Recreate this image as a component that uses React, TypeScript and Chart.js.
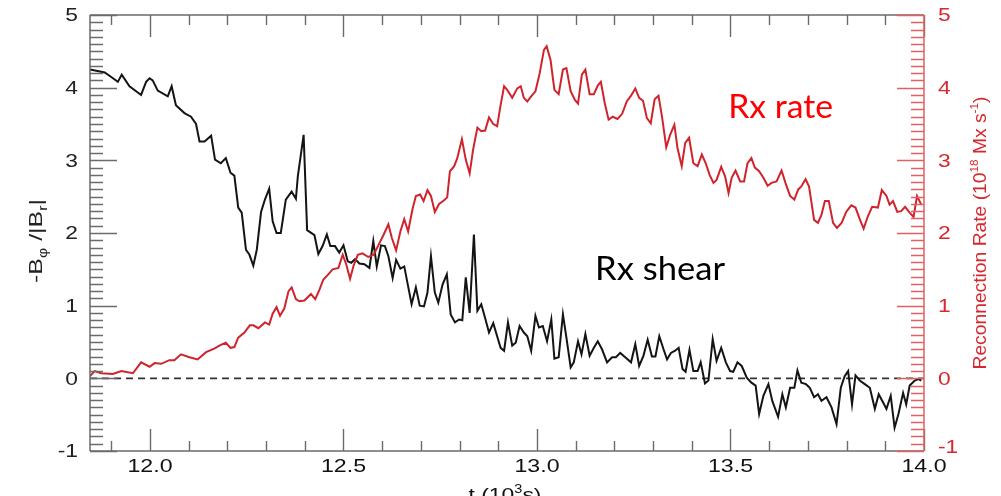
import React, { useEffect, useRef } from "react";
import { Chart, registerables } from "chart.js";

Chart.register(...registerables);

// ---- axis ranges and ticks ----
const X_MIN = 11.845;
const X_MAX = 14.0;
const Y_MIN = -1;
const Y_MAX = 5;
const X_TICKS = [12.0, 12.5, 13.0, 13.5, 14.0];
const X_TICK_LABELS = ["12.0", "12.5", "13.0", "13.5", "14.0"];
const Y_TICKS = [-1, 0, 1, 2, 3, 4, 5];
const Y_TICK_LABELS = ["-1", "0", "1", "2", "3", "4", "5"];
const ZERO_LEVEL = 0;

// ---- Rx shear (-Bphi/|Br|), left axis ----
const SHEAR_T = [
  11.845, 11.883, 11.899, 11.917, 11.927, 11.947, 11.977, 11.99, 11.999, 12.007,
  12.02, 12.046, 12.056, 12.067, 12.089, 12.106, 12.119, 12.128, 12.141, 12.158,
  12.168, 12.183, 12.196, 12.208, 12.218, 12.228, 12.237, 12.248, 12.257, 12.267,
  12.276, 12.287, 12.297, 12.308, 12.317, 12.327, 12.338, 12.351, 12.366, 12.377,
  12.382, 12.397, 12.406, 12.425, 12.435, 12.446, 12.457, 12.466, 12.478, 12.489,
  12.5, 12.511, 12.52, 12.53, 12.541, 12.554, 12.567, 12.577, 12.586, 12.597,
  12.607, 12.616, 12.627, 12.636, 12.647, 12.657, 12.676, 12.687, 12.697, 12.708,
  12.717, 12.726, 12.736, 12.745, 12.756, 12.767, 12.777, 12.788, 12.799, 12.807,
  12.816, 12.826, 12.837, 12.846, 12.856, 12.867, 12.876, 12.887, 12.897, 12.906,
  12.915, 12.925, 12.936, 12.945, 12.955, 12.966, 12.975, 12.985, 12.996, 13.005,
  13.015, 13.026, 13.037, 13.045, 13.056, 13.067, 13.076, 13.087, 13.095, 13.106,
  13.115, 13.125, 13.136, 13.147, 13.157, 13.168, 13.181, 13.194, 13.204, 13.215,
  13.228, 13.243, 13.254, 13.264, 13.275, 13.286, 13.297, 13.306, 13.316, 13.327,
  13.336, 13.346, 13.357, 13.366, 13.376, 13.384, 13.394, 13.404, 13.415, 13.423,
  13.434, 13.443, 13.454, 13.464, 13.476, 13.488, 13.499, 13.507, 13.518, 13.529,
  13.542, 13.554, 13.565, 13.574, 13.585, 13.598, 13.608, 13.623, 13.634, 13.643,
  13.654, 13.665, 13.673, 13.683, 13.695, 13.705, 13.716, 13.726, 13.735, 13.748,
  13.761, 13.774, 13.785, 13.795, 13.804, 13.814, 13.823, 13.834, 13.847, 13.86,
  13.873, 13.883, 13.894, 13.903, 13.914, 13.924, 13.934, 13.946, 13.954, 13.963,
  13.976, 13.986, 13.993,
];
const SHEAR_V = [
  4.25, 4.21, 4.15, 4.08, 4.18, 4.02, 3.9, 4.08, 4.13, 4.1,
  3.96, 3.88, 4.02, 3.76, 3.65, 3.6, 3.5, 3.26, 3.26, 3.34,
  3.01, 2.96, 3.03, 2.83, 2.79, 2.35, 2.28, 1.77, 1.7, 1.55,
  1.77, 2.29, 2.46, 2.61, 2.16, 2.0, 2.0, 2.46, 2.57, 2.47,
  2.78, 3.35, 2.04, 1.97, 1.71, 1.82, 1.98, 1.82, 1.82, 1.73,
  1.83, 1.61, 1.59, 1.64, 1.58, 1.57, 1.52, 1.89, 1.54, 1.83,
  1.82, 1.68, 1.38, 1.63, 1.51, 1.54, 1.02, 1.25, 1.0, 0.99,
  1.18, 1.68, 1.18, 1.04, 1.29, 1.43, 0.88, 0.77, 0.81, 0.8,
  1.39, 0.9, 1.98, 0.93, 1.02, 0.81, 0.63, 0.76, 0.58, 0.42,
  0.38, 0.77, 0.45, 0.49, 0.72, 0.63, 0.58, 0.38, 0.86, 0.7,
  0.72, 0.51, 0.81, 0.27, 0.29, 0.88, 0.56, 0.15, 0.22, 0.51,
  0.33, 0.61, 0.31, 0.42, 0.51, 0.4, 0.22, 0.29, 0.29, 0.35,
  0.29, 0.22, 0.47, 0.17, 0.31, 0.53, 0.3, 0.3, 0.58, 0.4,
  0.26, 0.35, 0.38, 0.42, 0.13, 0.09, 0.39, 0.1, 0.1, 0.22,
  -0.07, -0.03, 0.54, 0.24, 0.42, 0.22, 0.1, 0.09, 0.22, 0.17,
  0.01, -0.06, -0.1, -0.49, -0.24, -0.08, -0.31, -0.53, -0.22, -0.4,
  -0.13, -0.13, 0.11, -0.06, -0.08, -0.13, -0.26, -0.22, -0.31, -0.26,
  -0.4, -0.63, -0.13, 0.03, 0.1, -0.36, 0.04, -0.03, -0.08, -0.13,
  -0.42, -0.22, -0.33, -0.42, -0.24, -0.68, -0.49, -0.2, -0.36, -0.1,
  -0.03, -0.01, -0.03,
];

// ---- Rx rate (10^18 Mx s^-1), right axis ----
const RATE_T = [
  11.845, 11.857, 11.874, 11.904, 11.926, 11.956, 11.977, 11.999, 12.012, 12.029,
  12.05, 12.063, 12.08, 12.102, 12.123, 12.145, 12.166, 12.183, 12.196, 12.208,
  12.218, 12.228, 12.244, 12.258, 12.267, 12.28, 12.297, 12.308, 12.317, 12.327,
  12.336, 12.347, 12.358, 12.366, 12.377, 12.386, 12.399, 12.416, 12.427, 12.438,
  12.448, 12.459, 12.472, 12.487, 12.498, 12.507, 12.517, 12.526, 12.537, 12.549,
  12.564, 12.578, 12.59, 12.604, 12.616, 12.625, 12.636, 12.647, 12.657, 12.667,
  12.678, 12.687, 12.698, 12.707, 12.717, 12.726, 12.736, 12.747, 12.76, 12.768,
  12.775, 12.786, 12.794, 12.806, 12.816, 12.826, 12.835, 12.846, 12.856, 12.866,
  12.876, 12.887, 12.897, 12.906, 12.915, 12.923, 12.936, 12.949, 12.958, 12.966,
  12.975, 12.985, 12.996, 13.007, 13.018, 13.025, 13.035, 13.045, 13.056, 13.067,
  13.076, 13.087, 13.098, 13.106, 13.116, 13.125, 13.136, 13.147, 13.157, 13.165,
  13.175, 13.185, 13.196, 13.208, 13.22, 13.232, 13.243, 13.254, 13.264, 13.274,
  13.284, 13.294, 13.304, 13.314, 13.323, 13.334, 13.344, 13.355, 13.363, 13.374,
  13.383, 13.393, 13.404, 13.415, 13.426, 13.436, 13.446, 13.456, 13.464, 13.476,
  13.486, 13.495, 13.503, 13.513, 13.525, 13.535, 13.544, 13.554, 13.563, 13.574,
  13.585, 13.596, 13.606, 13.619, 13.632, 13.642, 13.654, 13.665, 13.675, 13.683,
  13.694, 13.703, 13.716, 13.726, 13.735, 13.744, 13.754, 13.765, 13.775, 13.787,
  13.799, 13.812, 13.823, 13.834, 13.844, 13.855, 13.866, 13.881, 13.891, 13.903,
  13.911, 13.92, 13.931, 13.941, 13.951, 13.963, 13.973, 13.982, 13.993,
];
const RATE_V = [
  0.03, 0.1, 0.07, 0.06, 0.1, 0.07, 0.22, 0.16, 0.21, 0.2,
  0.25, 0.25, 0.33, 0.29, 0.26, 0.36, 0.41, 0.46, 0.49, 0.42,
  0.43, 0.56, 0.63, 0.73, 0.73, 0.69, 0.77, 0.74, 0.89, 0.98,
  0.86, 0.96, 1.2, 1.25, 1.09, 1.06, 1.07, 1.16, 1.09, 1.22,
  1.36, 1.42, 1.5, 1.52, 1.7, 1.57, 1.37, 1.55, 1.7, 1.72,
  1.67, 1.7, 1.83, 1.98, 2.12, 1.93, 1.76, 2.02, 2.19, 2.02,
  2.32, 2.51, 2.53, 2.44, 2.59, 2.51, 2.29, 2.4, 2.45, 2.49,
  2.85, 2.92, 3.03, 3.29, 3.01, 2.82, 3.15, 3.45, 3.4, 3.41,
  3.59, 3.5, 3.47, 3.76, 4.02, 3.97, 3.86, 3.99, 4.02, 3.86,
  3.81, 3.88, 3.95, 4.2, 4.52, 4.57, 4.38, 3.97, 3.91, 4.25,
  4.27, 3.95, 3.83, 3.78, 4.18, 4.25, 3.91, 3.91, 4.03, 4.08,
  3.79, 3.56, 3.6, 3.57, 3.64, 3.81, 3.89, 3.99, 3.86, 3.82,
  3.58, 3.51, 3.84, 3.89, 3.6, 3.18, 3.35, 3.49, 3.17, 2.92,
  3.24, 3.31, 2.96, 2.92, 3.08, 2.96, 2.8, 2.69, 2.73, 2.91,
  2.78, 2.55, 2.76, 2.86, 2.71, 2.71, 2.96, 3.03, 2.9, 2.85,
  2.76, 2.65, 2.69, 2.71, 2.86, 2.69, 2.51, 2.46, 2.6, 2.64,
  2.74, 2.64, 2.18, 2.14, 2.25, 2.44, 2.44, 2.14, 2.07, 2.14,
  2.29, 2.38, 2.35, 2.19, 2.06, 2.23, 2.36, 2.35, 2.59, 2.51,
  2.39, 2.44, 2.29, 2.3, 2.36, 2.28, 2.22, 2.51, 2.39,
];

// ---- annotations (data coordinates) ----
const ANNOTATIONS = [
  { text: "Rx rate", t: 13.494, v: 3.583, color: "#ff0000", width: 105 },
  { text: "Rx shear", t: 13.15, v: 1.353, color: "#000000", width: 130 },
];

const AXIS_GRAY = "#6b6b6b";
const AXIS_RED = "rgb(224,96,100)";
const LABEL_RED = "rgb(214,40,46)";
const TICK_FONT = '19px "Liberation Sans", Arial, sans-serif';

type Piece = { s: string; kind: "n" | "sub" | "sup" };

function drawRich(ctx: CanvasRenderingContext2D, pieces: Piece[], size: number, targetW: number) {
  // draws centered at origin, baseline at 0
  const small = Math.round(size * 0.62);
  const fontN = `${size}px "Liberation Sans", Arial, sans-serif`;
  const fontS = `${small}px "Liberation Sans", Arial, sans-serif`;
  let total = 0;
  const widths = pieces.map((p) => {
    ctx.font = p.kind === "n" ? fontN : fontS;
    const w = ctx.measureText(p.s).width;
    total += w;
    return w;
  });
  const sx = targetW / total;
  ctx.save();
  ctx.scale(sx, 1);
  let x = -total / 2;
  ctx.textAlign = "left";
  ctx.textBaseline = "alphabetic";
  pieces.forEach((p, i) => {
    ctx.font = p.kind === "n" ? fontN : fontS;
    const dy = p.kind === "sub" ? size * 0.28 : p.kind === "sup" ? -size * 0.42 : 0;
    ctx.fillText(p.s, x, dy);
    x += widths[i];
  });
  ctx.restore();
}

function stretchText(ctx: CanvasRenderingContext2D, s: string, x: number, y: number, align: CanvasTextAlign, sx: number) {
  ctx.save();
  ctx.translate(x, y);
  ctx.scale(sx, 1);
  ctx.textAlign = align;
  ctx.fillText(s, 0, 0);
  ctx.restore();
}

const idlAxes = {
  id: "idlAxes",
  afterDatasetsDraw(chart: any) {
    const { ctx, chartArea: a, scales } = chart;
    const xs = scales.x;
    const yl = scales.y;
    const yr = scales.y2;
    ctx.save();

    // frame (left / top / bottom)
    ctx.lineWidth = 1.5;
    ctx.strokeStyle = AXIS_GRAY;
    ctx.beginPath();
    ctx.moveTo(a.left, a.top);
    ctx.lineTo(a.right, a.top);
    ctx.moveTo(a.left, a.bottom);
    ctx.lineTo(a.right, a.bottom);
    ctx.moveTo(a.left, a.top);
    ctx.lineTo(a.left, a.bottom);
    ctx.stroke();

    // x ticks (bottom and top, inward)
    ctx.lineWidth = 1.4;
    ctx.beginPath();
    for (let k = Math.ceil(X_MIN * 10); k <= Math.floor(X_MAX * 10 + 1e-6); k++) {
      const px = Math.round(xs.getPixelForValue(k / 10)) + 0.5;
      const len = k % 5 === 0 ? 22 : 10;
      ctx.moveTo(px, a.bottom);
      ctx.lineTo(px, a.bottom - len);
      ctx.moveTo(px, a.top);
      ctx.lineTo(px, a.top + len);
    }
    ctx.stroke();

    // left y ticks
    ctx.beginPath();
    for (let k = Y_MIN * 10; k <= Y_MAX * 10; k++) {
      const py = Math.round(yl.getPixelForValue(k / 10)) + 0.5;
      const len = k % 10 === 0 ? 27 : 13;
      ctx.moveTo(a.left, py);
      ctx.lineTo(a.left + len, py);
    }
    ctx.stroke();

    // right axis (red)
    ctx.strokeStyle = AXIS_RED;
    ctx.lineWidth = 1.5;
    ctx.beginPath();
    ctx.moveTo(a.right, a.top);
    ctx.lineTo(a.right, a.bottom);
    for (let k = Y_MIN * 10; k <= Y_MAX * 10; k++) {
      const py = Math.round(yr.getPixelForValue(k / 10)) + 0.5;
      const len = k % 10 === 0 ? 27 : 13;
      ctx.moveTo(a.right, py);
      ctx.lineTo(a.right - len, py);
    }
    ctx.stroke();

    // tick labels
    ctx.font = TICK_FONT;
    ctx.textBaseline = "middle";
    ctx.fillStyle = "#222";
    Y_TICKS.forEach((v, i) => {
      stretchText(ctx, Y_TICK_LABELS[i], a.left - 12, yl.getPixelForValue(v) + 1, "right", 1.2);
    });
    ctx.fillStyle = LABEL_RED;
    Y_TICKS.forEach((v, i) => {
      const py = yr.getPixelForValue(v) + (v === Y_MIN ? -3 : 1);
      stretchText(ctx, Y_TICK_LABELS[i], a.right + 14, py, "left", 1.2);
    });
    ctx.fillStyle = "#111";
    ctx.textBaseline = "alphabetic";
    X_TICKS.forEach((t, i) => {
      stretchText(ctx, X_TICK_LABELS[i], xs.getPixelForValue(t), a.bottom + 21, "center", 1.22);
    });

    // axis titles
    ctx.fillStyle = "#222";
    ctx.save();
    ctx.translate(42, 241);
    ctx.rotate(-Math.PI / 2);
    drawRich(
      ctx,
      [
        { s: "-B", kind: "n" },
        { s: "\u03c6", kind: "sub" },
        { s: " /|B", kind: "n" },
        { s: "r", kind: "sub" },
        { s: "|", kind: "n" },
      ],
      19,
      84
    );
    ctx.restore();

    ctx.fillStyle = LABEL_RED;
    ctx.save();
    ctx.translate(986, 233);
    ctx.rotate(-Math.PI / 2);
    drawRich(
      ctx,
      [
        { s: "Reconnection Rate (10", kind: "n" },
        { s: "18", kind: "sup" },
        { s: " Mx s", kind: "n" },
        { s: "-1", kind: "sup" },
        { s: ")", kind: "n" },
      ],
      18,
      273
    );
    ctx.restore();

    ctx.fillStyle = "#111";
    ctx.save();
    ctx.translate(505, 501);
    drawRich(
      ctx,
      [
        { s: "t (10", kind: "n" },
        { s: "3", kind: "sup" },
        { s: "s)", kind: "n" },
      ],
      19,
      73
    );
    ctx.restore();

    // annotations
    ctx.font = '32px Lato, "Open Sans", sans-serif';
    ctx.textBaseline = "alphabetic";
    ANNOTATIONS.forEach((an) => {
      const w = ctx.measureText(an.text).width;
      ctx.fillStyle = an.color;
      stretchText(ctx, an.text, xs.getPixelForValue(an.t), yl.getPixelForValue(an.v), "left", an.width / w);
    });

    ctx.restore();
  },
};

export default function App() {
  const ref = useRef<HTMLCanvasElement | null>(null);
  useEffect(() => {
    document.body.style.margin = "0";
    document.body.style.background = "#ffffff";
    if (!ref.current) return;
    const shear = SHEAR_T.map((t, i) => ({ x: t, y: SHEAR_V[i] }));
    const rate = RATE_T.map((t, i) => ({ x: t, y: RATE_V[i] }));
    const zero = [
      { x: X_MIN, y: ZERO_LEVEL },
      { x: X_MAX, y: ZERO_LEVEL },
    ];
    const chart = new Chart(ref.current, {
      type: "line",
      data: {
        datasets: [
          {
            label: "Rx rate",
            data: rate,
            yAxisID: "y2",
            borderColor: "rgb(208,36,44)",
            borderWidth: 2,
            pointRadius: 0,
            tension: 0,
            order: 0,
          },
          {
            label: "Rx shear",
            data: shear,
            yAxisID: "y",
            borderColor: "#141414",
            borderWidth: 2,
            pointRadius: 0,
            tension: 0,
            order: 1,
          },
          {
            label: "zero",
            data: zero,
            yAxisID: "y",
            borderColor: "#333",
            borderWidth: 1.6,
            borderDash: [7, 5],
            pointRadius: 0,
            order: 2,
          },
        ],
      },
      options: {
        responsive: false,
        animation: false,
        layout: { padding: { left: 90, right: 77, top: 15, bottom: 45 } },
        plugins: { legend: { display: false }, tooltip: { enabled: false } },
        scales: {
          x: { type: "linear", min: X_MIN, max: X_MAX, display: false },
          y: { type: "linear", min: Y_MIN, max: Y_MAX, display: false },
          y2: { type: "linear", min: Y_MIN, max: Y_MAX, display: false, position: "right" },
        },
      },
      plugins: [idlAxes],
    });
    return () => chart.destroy();
  }, []);
  return (
    <div style={{ width: 1001, height: 496 }}>
      <canvas ref={ref} width={1001} height={496} style={{ display: "block" }} />
    </div>
  );
}
